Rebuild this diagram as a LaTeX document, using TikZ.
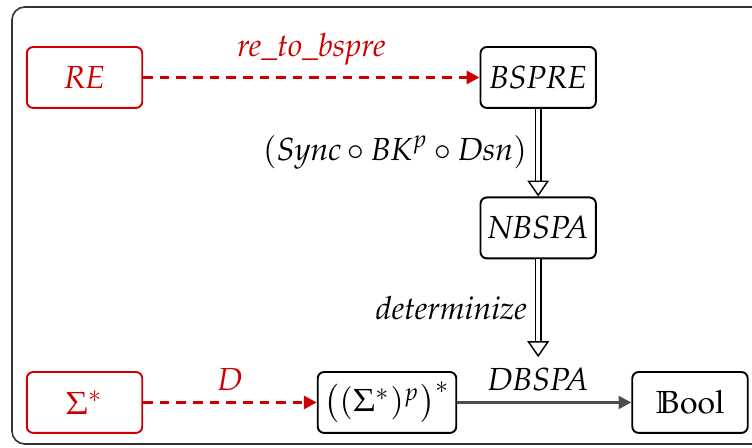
\documentclass[tikz,border=0pt]{standalone}
\usepackage[T1]{fontenc}
\usepackage{mathpazo}
\usetikzlibrary{arrows.meta}
\definecolor{lred}{RGB}{204,0,0}
\tikzset{
  box/.style={draw, rounded corners=2pt, line width=0.6pt, minimum width=1.27cm, minimum height=0.67cm, inner sep=2pt},
  redbox/.style={box, draw=lred, text=lred},
  redarrow/.style={draw=lred, line width=1pt, dash pattern=on 3pt off 2.2pt, -{Triangle[length=4pt,width=4pt]}},
  grayarrow/.style={draw=black!70, line width=0.8pt, -{Triangle[length=4pt,width=4pt]}},
  dblarrow/.style={double, double distance=1.3pt, line width=0.45pt, -{Triangle[open,length=5pt,width=6.8pt]}},
}
\begin{document}
\begin{tikzpicture}
	\useasboundingbox (0,0) rectangle (8.272,4.917);
	\draw[black!80, line width=0.5pt, rounded corners=4pt] (0.132,0.033) rectangle (8.6,4.84);
	% top row
	\node[redbox] (re) at (0.93,4.065) {\textit{RE}};
	\node[box] (bspre) at (5.92,4.065) {\textit{BSPRE}};
	\node[box] (nbspa) at (5.92,2.41) {\textit{NBSPA}};
	% bottom row
	\node[redbox] (sigma) at (0.93,0.49) {$\Sigma^*$};
	\node[box, minimum width=1.35cm] (words) at (4.257,0.49) {$\big((\Sigma^*)^p\big)^*$};
	\node[box] (bool) at (7.59,0.49) {$\mathbb{B}\mathrm{ool}$};
	\node (dbspa) at (5.92,0.74) {\textit{DBSPA}};
	% arrows
	\draw[redarrow] (re) -- node[above, text=lred] {\textit{re\_to\_bspre}} (bspre);
	\draw[dblarrow] (bspre) -- node[left] {$(\mathit{Sync}\circ\mathit{BK}^p\circ\mathit{Dsn})$} (nbspa);
	\draw[dblarrow] (nbspa) -- node[left] {\textit{determinize}} (dbspa);
	\draw[redarrow] (sigma) -- node[above, text=lred] {$D$} (words);
	\draw[grayarrow] (words) -- (bool);
\end{tikzpicture}
\end{document}
